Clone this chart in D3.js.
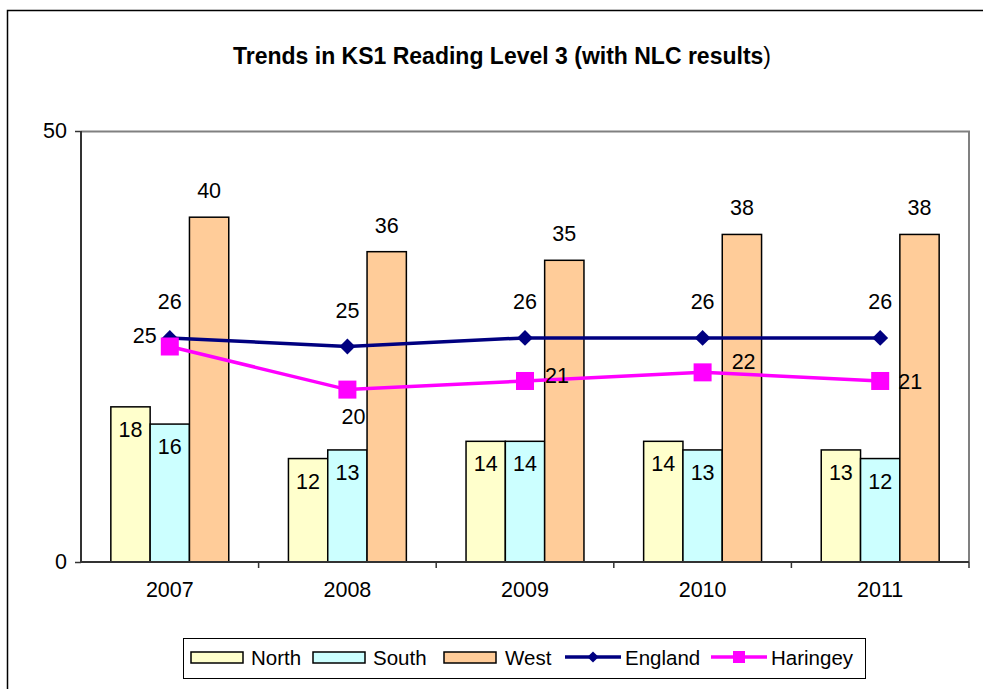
<!DOCTYPE html>
<html>
<head>
<meta charset="utf-8">
<script src="https://cdn.jsdelivr.net/npm/d3@7"></script>
<style>
  body { margin: 0; background: #fff; }
  text { font-family: "Liberation Sans", Arial, sans-serif; fill: #000; }
</style>
</head>
<body>
<div id="chart"></div>
<script>
// chart data
var years = ["2007", "2008", "2009", "2010", "2011"];
var barSeries = ["North", "South", "West"];
var north = [18, 12, 14, 14, 13];
var south = [16, 13, 14, 13, 12];
var west = [40, 36, 35, 38, 38];
var england = [26, 25, 26, 26, 26];
var haringey = [25, 20, 21, 22, 21];
var yTicks = [0, 50];

var svgWidth = 983, svgHeight = 689;
var margin = { top: 131, right: 14, bottom: 127, left: 81 };
var width = svgWidth - margin.left - margin.right;
var height = svgHeight - margin.top - margin.bottom;

var colors = { North: "#FFFFCC", South: "#CCFFFF", West: "#FFCC99", England: "#000080", Haringey: "#FF00FF" };
var fontSize = "21.5px";

var svg = d3.select("#chart").append("svg")
  .attr("width", svgWidth)
  .attr("height", svgHeight);

// outer chart border
svg.append("rect")
  .attr("x", 7.5).attr("y", 10.5)
  .attr("width", svgWidth + 10).attr("height", svgHeight + 10)
  .attr("fill", "none").attr("stroke", "#000").attr("stroke-width", 1.5);

// title (closing bracket is not bold in the original)
var title = svg.append("text")
  .attr("x", 502).attr("y", 64)
  .attr("text-anchor", "middle")
  .style("font-size", "23px");
title.append("tspan").style("font-weight", "bold").text("Trends in KS1 Reading Level 3 (with NLC results");
title.append("tspan").text(")");

var g = svg.append("g").attr("transform", `translate(${margin.left},${margin.top})`);

// scales
var x0 = d3.scaleBand().domain(years).range([0, width]);
var x1 = d3.scaleBand().domain(barSeries)
  .range([x0.bandwidth() * 0.168, x0.bandwidth() * 0.832]);
var y = d3.scaleLinear().domain([0, 50]).range([height, 0]);

// plot frame: grey top + right
g.append("path")
  .attr("d", `M0,0.5H${width}V${height}`)
  .attr("fill", "none").attr("stroke", "#808080").attr("stroke-width", 2);

// bars
var barData = years.map(function(yr, i) {
  return { year: yr, vals: [
    { key: "North", v: north[i] },
    { key: "South", v: south[i] },
    { key: "West", v: west[i] }
  ] };
});

var groups = g.selectAll("g.year")
  .data(barData)
  .enter().append("g")
  .attr("class", "year")
  .attr("transform", d => `translate(${x0(d.year)},0)`);

groups.selectAll("rect")
  .data(d => d.vals)
  .enter().append("rect")
  .attr("x", d => x1(d.key))
  .attr("y", d => y(d.v))
  .attr("width", x1.bandwidth())
  .attr("height", d => height - y(d.v))
  .attr("fill", d => colors[d.key])
  .attr("stroke", "#000")
  .attr("stroke-width", 1.5);

// bar labels: North/South sit just inside the top, West above the bar
groups.selectAll("text")
  .data(d => d.vals)
  .enter().append("text")
  .attr("x", d => x1(d.key) + x1.bandwidth() / 2)
  .attr("y", d => d.key === "West" ? y(d.v) - 19 : y(d.v) + 30)
  .attr("text-anchor", "middle")
  .style("font-size", fontSize)
  .text(d => d.v);

// axes
var yAxis = d3.axisLeft(y).tickValues(yTicks).tickSize(6).tickPadding(8);
var yG = g.append("g").call(yAxis);
yG.select(".domain").attr("stroke", "#333").attr("stroke-width", 2).attr("d", `M0,0V${height}`);
yG.selectAll(".tick line").attr("stroke", "#333").attr("stroke-width", 1.5);
yG.selectAll(".tick text").style("font-size", fontSize).attr("fill", "#000")
  .attr("font-family", "Liberation Sans, Arial, sans-serif");

var xG = g.append("g").attr("transform", `translate(0,${height})`)
  .call(d3.axisBottom(x0).tickSize(0).tickPadding(20));
xG.select(".domain").attr("stroke", "#333").attr("stroke-width", 2).attr("d", `M0,0H${width}`);
xG.selectAll(".tick text").style("font-size", fontSize).attr("fill", "#000")
  .attr("font-family", "Liberation Sans, Arial, sans-serif");
// category separator ticks
xG.selectAll("line.sep")
  .data(d3.range(1, years.length + 1))
  .enter().append("line")
  .attr("class", "sep")
  .attr("x1", i => i * x0.bandwidth()).attr("x2", i => i * x0.bandwidth())
  .attr("y1", 0).attr("y2", 6)
  .attr("stroke", "#333").attr("stroke-width", 1.5);

var cx = d => x0(d) + x0.bandwidth() / 2;

// lines
var line = d3.line().x((d, i) => cx(years[i])).y(d => y(d));

g.append("path").datum(england)
  .attr("d", line).attr("fill", "none")
  .attr("stroke", colors.England).attr("stroke-width", 3.5);

g.append("path").datum(haringey)
  .attr("d", line).attr("fill", "none")
  .attr("stroke", colors.Haringey).attr("stroke-width", 3.5);

// markers
g.selectAll("path.diamond")
  .data(england)
  .enter().append("path")
  .attr("class", "diamond")
  .attr("d", d3.symbol().type(d3.symbolDiamond2).size(160))
  .attr("transform", (d, i) => `translate(${cx(years[i])},${y(d)})`)
  .attr("fill", colors.England);

g.selectAll("rect.sq")
  .data(haringey)
  .enter().append("rect")
  .attr("class", "sq")
  .attr("x", (d, i) => cx(years[i]) - 9)
  .attr("y", d => y(d) - 9)
  .attr("width", 18).attr("height", 18)
  .attr("fill", colors.Haringey);

// line labels
g.selectAll("text.eng")
  .data(england)
  .enter().append("text")
  .attr("class", "eng")
  .attr("x", (d, i) => cx(years[i]))
  .attr("y", d => y(d) - 29)
  .attr("text-anchor", "middle")
  .style("font-size", fontSize)
  .text(d => d);

var harOffset = [[-25, -4], [6, 34], [32, 2], [41, -3], [30, 8]];
g.selectAll("text.har")
  .data(haringey)
  .enter().append("text")
  .attr("class", "har")
  .attr("x", (d, i) => cx(years[i]) + harOffset[i][0])
  .attr("y", (d, i) => y(d) + harOffset[i][1])
  .attr("text-anchor", "middle")
  .style("font-size", fontSize)
  .text(d => d);

// legend
var legend = svg.append("g");
legend.append("rect")
  .attr("x", 183.5).attr("y", 638.5).attr("width", 682).attr("height", 40)
  .attr("fill", "#fff").attr("stroke", "#000").attr("stroke-width", 1);

var legendItems = [
  { key: "North", type: "bar", x: 191, tx: 251 },
  { key: "South", type: "bar", x: 313, tx: 373 },
  { key: "West", type: "bar", x: 444, tx: 505 },
  { key: "England", type: "line", x: 565, tx: 625 },
  { key: "Haringey", type: "line", x: 711, tx: 771 }
];
legendItems.forEach(function(it) {
  if (it.type === "bar") {
    legend.append("rect")
      .attr("x", it.x).attr("y", 652).attr("width", 52).attr("height", 11)
      .attr("fill", colors[it.key]).attr("stroke", "#000").attr("stroke-width", 1.5);
  } else {
    legend.append("line")
      .attr("x1", it.x).attr("x2", it.x + 56).attr("y1", 657).attr("y2", 657)
      .attr("stroke", colors[it.key]).attr("stroke-width", 3.5);
    if (it.key === "England") {
      legend.append("path")
        .attr("d", d3.symbol().type(d3.symbolDiamond2).size(80))
        .attr("transform", `translate(${it.x + 28},657)`)
        .attr("fill", colors[it.key]);
    } else {
      legend.append("rect")
        .attr("x", it.x + 22).attr("y", 651).attr("width", 12).attr("height", 12)
        .attr("fill", colors[it.key]);
    }
  }
  legend.append("text")
    .attr("x", it.tx).attr("y", 665)
    .style("font-size", "20.5px")
    .text(it.key);
});
</script>
</body>
</html>
